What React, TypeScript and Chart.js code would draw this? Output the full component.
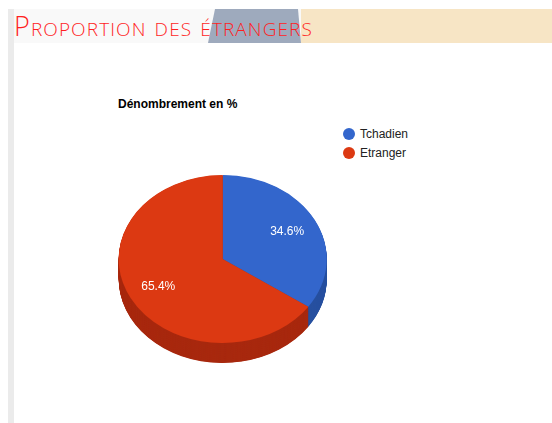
import React, { useEffect, useRef } from "react";
import { Chart, registerables } from "chart.js";

Chart.register(...registerables);

const categories = ["Tchadien", "Etranger"];
const values = [34.6, 65.4];
const colors = ["#3366cc", "#dc3912"];
const sideColors = ["#27509f", "#a8290f"];
const chartTitle = "Dénombrement en %";
const pageTitle = "Proportion des étrangers";

const TILT = 84 / 104;
const DEPTH = 20;

const pie3d = {
  id: "pie3d",
  beforeDatasetsDraw(chart: any) {
    const ctx = chart.ctx;
    const meta = chart.getDatasetMeta(0);
    const first = meta.data[0];
    if (!first) return;
    const cx = first.x;
    const cy = first.y;
    ctx.save();
    ctx.translate(cx, cy);
    ctx.scale(1, TILT);
    ctx.translate(-cx, -cy);
    const depthScaled = DEPTH / TILT;
    for (let d = depthScaled; d >= 0.5; d -= 0.5) {
      meta.data.forEach((arc: any, i: number) => {
        const p = arc.getProps(["x", "y", "startAngle", "endAngle", "outerRadius"], true);
        ctx.beginPath();
        ctx.moveTo(p.x, p.y + d);
        ctx.arc(p.x, p.y + d, p.outerRadius, p.startAngle, p.endAngle);
        ctx.closePath();
        ctx.fillStyle = sideColors[i];
        ctx.fill();
      });
    }
  },
  afterDatasetsDraw(chart: any) {
    const ctx = chart.ctx;
    ctx.restore();
    const meta = chart.getDatasetMeta(0);
    const total = values.reduce((a, b) => a + b, 0);
    ctx.save();
    ctx.font = "12px 'Liberation Sans', Arial, sans-serif";
    ctx.fillStyle = "#ffffff";
    ctx.textAlign = "center";
    ctx.textBaseline = "middle";
    meta.data.forEach((arc: any, i: number) => {
      const p = arc.getProps(["x", "y", "startAngle", "endAngle", "outerRadius"], true);
      const mid = (p.startAngle + p.endAngle) / 2;
      const r = p.outerRadius * 0.7;
      const lx = p.x + r * Math.cos(mid);
      const ly = p.y + r * Math.sin(mid) * TILT;
      ctx.fillText(((values[i] / total) * 100).toFixed(1) + "%", lx, ly);
    });
    ctx.restore();
  },
};

export default function App() {
  const ref = useRef<HTMLCanvasElement | null>(null);

  useEffect(() => {
    if (!ref.current) return;
    const chart = new Chart(ref.current, {
      type: "pie",
      data: {
        labels: categories,
        datasets: [
          {
            data: values,
            backgroundColor: colors,
            borderWidth: 0,
            hoverOffset: 0,
          },
        ],
      },
      options: {
        animation: false,
        responsive: false,
        devicePixelRatio: 1,
        events: [],
        radius: 104,
        layout: { padding: { left: 18.7, right: 33.3, top: 5, bottom: 27 } },
        plugins: {
          legend: { display: false },
          tooltip: { enabled: false },
          title: { display: false },
        },
      } as any,
      plugins: [pie3d],
    });
    return () => chart.destroy();
  }, []);

  const abs = (s: React.CSSProperties): React.CSSProperties => ({ position: "absolute", ...s });

  return (
    <div>
      <div style={abs({ left: 8, top: 9, width: 6, height: 414, background: "#ebebeb" })} />
      <div style={abs({ left: 14, top: 9, width: 538, height: 34, background: "#f9f9f9" })} />
      <div
        style={abs({
          left: 207,
          top: 9,
          width: 96,
          height: 34,
          background: "#9eaabd",
          clipPath: "polygon(8px 0, 91px 0, 94px 34px, 1px 34px)",
        })}
      />
      <div style={abs({ left: 301, top: 9, width: 251, height: 34, background: "#f7e5c5" })} />
      <div
        style={abs({
          left: 14,
          top: 12,
          fontFamily: "'Open Sans', sans-serif",
          fontWeight: 300,
          fontSize: 27,
          lineHeight: "27px",
          letterSpacing: "1.1px",
          fontVariant: "small-caps",
          color: "#ff1f1f",
          whiteSpace: "nowrap",
        })}
      >
        {pageTitle}
      </div>
      <div
        style={abs({
          left: 118,
          top: 97,
          fontFamily: "'Liberation Sans', Arial, sans-serif",
          fontWeight: "bold",
          fontSize: 12,
          lineHeight: "14px",
          color: "#000",
          whiteSpace: "nowrap",
        })}
      >
        {chartTitle}
      </div>
      {categories.map((c, i) => (
        <div key={c} style={abs({ left: 343, top: 127 + i * 19, height: 14, display: "flex", alignItems: "center" })}>
          <span
            style={{
              display: "inline-block",
              width: 12,
              height: 12,
              borderRadius: 6,
              background: colors[i],
              marginRight: 5,
            }}
          />
          <span
            style={{
              fontFamily: "'Liberation Sans', Arial, sans-serif",
              fontSize: 12,
              color: "#222",
              whiteSpace: "nowrap",
            }}
          >
            {c}
          </span>
        </div>
      ))}
      <canvas ref={ref} width={260} height={240} style={abs({ left: 100, top: 150, width: 260, height: 240 })} />
    </div>
  );
}
